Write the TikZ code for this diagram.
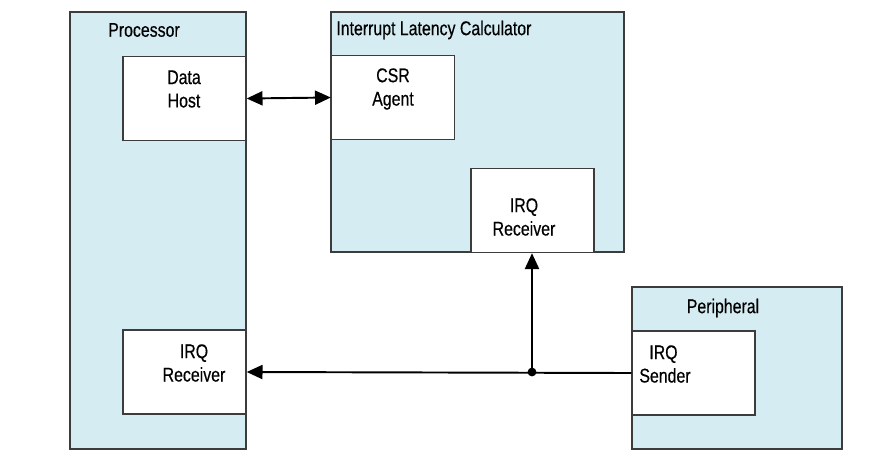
\documentclass[tikz,border=0pt]{standalone}
\usepackage{fontspec}
\setmainfont[FakeStretch=0.8,FakeBold=0.4]{Liberation Sans}
\usepackage{tikz}
\usetikzlibrary{shapes}
\usetikzlibrary{arrows.meta}
\usetikzlibrary{positioning}
\usetikzlibrary{calc}
\definecolor{boxblue}{HTML}{D5ECF2}
\definecolor{edge}{HTML}{3C3C3C}
\tikzstyle{module}=[
        rectangle,
        draw=edge,
        line width=0.8pt,
        fill=boxblue,
        inner sep=0pt
]
\tikzstyle{block}=[rectangle,draw=edge,line width=0.8pt,fill=white,
minimum width=2.46cm,minimum height=1.68cm,inner sep=0pt]
\tikzstyle{txt}=[align=center,font=\fontsize{11.3}{13.3}\selectfont,inner sep=0pt]
\tikzstyle{suite}=[-{Triangle[length=9pt,width=8pt]},line width=1.1pt,black]

\begin{document}
\begin{tikzpicture}[x=0.02cm,y=-0.02cm]
\useasboundingbox (0,0) rectangle (889,464);
\node[module,minimum width=3.52cm,minimum height=8.74cm] (proc) at (158,230.5) {};
\node[module,minimum width=5.86cm,minimum height=4.8cm] (ilc) at (477.5,132) {};
\node[module,minimum width=4.2cm,minimum height=3.24cm] (peri) at (737,368) {};
\node[txt] (proct) at (144,30) {Processor};
\node[txt,anchor=west] (ilct) at (336,30) {Interrupt Latency Calculator};
\node[txt] (perit) at (723,308) {Peripheral};
\node[block] (dh) at (184.5,98.5) {};
\node[block] (csr) at (393,97.5) {};
\node[block] (irx) at (532.5,210.5) {};
\node[block] (prx) at (184.5,372) {};
\node[block] (snd) at (693.5,373) {};
\node[txt] (dht) at (184,89) {Data\\Host};
\node[txt] (csrt) at (393,89) {CSR\\Agent};
\node[txt] (irxt) at (524,217) {IRQ\\Receiver};
\node[txt] (prxt) at (194,363) {IRQ\\Receiver};
\node[txt,align=left] (sndt) at (665,364) {\hspace*{0.5em}IRQ\\Sender};
\coordinate (j) at (532,372);
%connectors
\draw[suite,{Triangle[length=9pt,width=8pt]}-{Triangle[length=9pt,width=8pt]}] (dh.east) -- (csr.west);
\draw[suite] (snd.west) -- (prx.east);
\draw[suite] (j) -- (j |- irx.south);
\fill (j) circle (2.5pt);
\end{tikzpicture}
\end{document}
